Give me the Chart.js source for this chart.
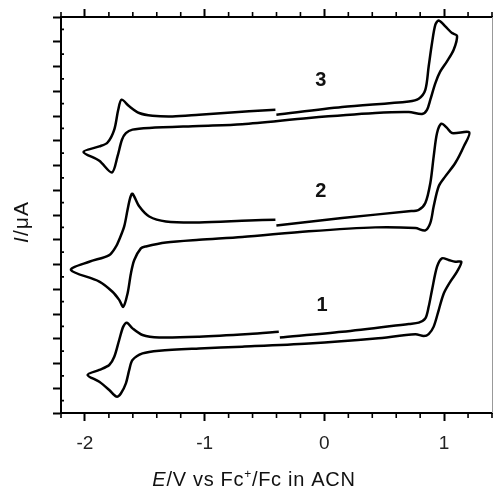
<!DOCTYPE html>
<html>
<head>
<meta charset="utf-8">
<script src="https://cdn.jsdelivr.net/npm/chart.js@4"></script>
<style>
html, body { margin: 0; padding: 0; background: #fff; }
#wrap { width: 493px; height: 497px; position: relative; }
</style>
</head>
<body>
<div id="wrap"><canvas id="cv"></canvas></div>
<script>
// potentials (V vs Fc+/Fc) and currents (arb. offset units), in scan order
const cv1E = [-0.372, 0.148, 0.705, 0.788, 0.843, 0.871, 0.899, 0.941, 0.982, 1.038, 1.093, 1.144,
    1.108, 1.052, 0.997, 0.955, 0.913, 0.871, 0.830, 0.760, 0.426, -0.130, -0.687, -1.046, -1.380,
    -1.519, -1.603, -1.630, -1.658, -1.700, -1.736, -1.797, -1.880, -1.978, -1.880, -1.797, -1.755,
    -1.714, -1.680, -1.649, -1.603, -1.519, -1.380, -1.046, -0.629, -0.381];
const cv1I = [3.05, 3.28, 3.60, 3.65, 3.82, 4.29, 4.97, 5.91, 6.25, 6.18, 6.11, 6.11,
    5.71, 5.31, 4.83, 4.16, 3.49, 3.19, 3.11, 3.18, 3.01, 2.81, 2.68, 2.61, 2.52,
    2.41, 2.14, 1.74, 1.20, 0.79, 0.66, 0.93, 1.26, 1.54, 1.74, 1.94, 2.27,
    2.95, 3.49, 3.65, 3.42, 3.15, 3.05, 3.08, 3.19, 3.28];

const cv2E = [-0.401, 0.148, 0.705, 0.788, 0.843, 0.885, 0.913, 0.941, 0.977, 1.024, 1.066, 1.210,
    1.164, 1.093, 1.010, 0.955, 0.913, 0.885, 0.843, 0.760, 0.426, -0.130, -0.687, -1.046, -1.324,
    -1.491, -1.533, -1.588, -1.616, -1.644, -1.680, -1.714, -1.770, -1.880, -2.117, -1.964, -1.797,
    -1.741, -1.714, -1.672, -1.644, -1.622, -1.603, -1.547, -1.463, -1.324, -1.046, -0.629, -0.409];
const cv2I = [7.58, 7.88, 8.15, 8.21, 8.48, 9.29, 10.37, 11.31, 11.69, 11.52, 11.31, 11.34,
    10.77, 10.10, 9.56, 9.16, 8.35, 7.68, 7.38, 7.47, 7.50, 7.34, 7.11, 7.00, 6.89,
    6.73, 6.65, 6.18, 5.64, 4.83, 4.29, 4.57, 4.90, 5.31, 5.78, 6.11, 6.38,
    6.72, 7.00, 7.54, 8.21, 8.69, 8.86, 8.35, 7.94, 7.74, 7.70, 7.78, 7.81];

const cv3E = [-0.401, 0.148, 0.705, 0.788, 0.843, 0.871, 0.899, 0.927, 0.955, 1.010, 1.066, 1.108,
    1.080, 1.024, 0.968, 0.927, 0.885, 0.857, 0.816, 0.705, 0.426, -0.130, -0.687, -1.046, -1.463,
    -1.603, -1.658, -1.691, -1.728, -1.775, -1.880, -2.012, -1.880, -1.811, -1.755, -1.722, -1.694,
    -1.630, -1.547, -1.436, -1.269, -1.046, -0.629, -0.409];
const cv3I = [12.05, 12.36, 12.59, 12.70, 13.06, 14.00, 14.95, 15.69, 15.86, 15.62, 15.35, 15.24,
    14.68, 14.21, 13.80, 13.33, 12.66, 12.25, 12.08, 12.16, 12.12, 11.92, 11.67, 11.60, 11.52,
    11.45, 11.31, 11.04, 10.37, 9.72, 10.19, 10.55, 10.77, 10.93, 11.45, 12.25, 12.66,
    12.39, 12.12, 12.01, 11.98, 12.05, 12.19, 12.25];

const xTickValues = [-2, -1, 0, 1];
const xTickLabels = ['-2', '-1', '0', '1'];
const curveNames = ['1', '2', '3'];

function toPoints(es, is) {
    return es.map((e, i) => ({ x: e, y: is[i] }));
}

const FONT = "'Liberation Sans', Arial, sans-serif";

function lineSet(label, es, is) {
    return {
        label: label,
        data: toPoints(es, is),
        showLine: true,
        borderColor: '#000',
        borderWidth: 2.5,
        pointRadius: 0,
        tension: 0.3,
        fill: false
    };
}

function majorTicks(scale) {
    scale.ticks = xTickValues.map(v => ({ value: v }));
}

// minor ticks, right frame, curve numbers and axis titles
const extras = {
    id: 'extras',
    afterDraw(chart) {
        const ctx = chart.ctx;
        const a = chart.chartArea;
        const xs = chart.scales.x, ys = chart.scales.y;
        ctx.save();

        ctx.strokeStyle = '#000';
        ctx.lineWidth = 1.6;
        ctx.beginPath();
        for (let k = -11; k <= 7; k++) {
            if (k % 5 === 0) continue;
            const px = xs.getPixelForValue(k * 0.2);
            ctx.moveTo(px, a.bottom); ctx.lineTo(px, a.bottom + 5);
            ctx.moveTo(px, a.top); ctx.lineTo(px, a.top - 5);
        }
        for (let k = 0; k < 16; k++) {
            const py = ys.getPixelForValue(k + 0.5);
            ctx.moveTo(a.left, py); ctx.lineTo(a.left + 3, py);
        }
        ctx.stroke();

        ctx.strokeStyle = '#999';
        ctx.lineWidth = 1;
        ctx.beginPath();
        ctx.moveTo(a.right + 0.5, a.top);
        ctx.lineTo(a.right + 0.5, a.bottom);
        ctx.stroke();

        // curve numbers
        const labE = [-0.02, -0.03, -0.03];
        const labI = [4.36, 8.95, 13.44];
        ctx.fillStyle = '#111';
        ctx.font = 'bold 20px ' + FONT;
        ctx.textAlign = 'center';
        ctx.textBaseline = 'middle';
        curveNames.forEach((n, i) => {
            ctx.fillText(n, xs.getPixelForValue(labE[i]), ys.getPixelForValue(labI[i]));
        });

        // x title: E/V vs Fc+/Fc in ACN
        ctx.textAlign = 'left';
        ctx.textBaseline = 'alphabetic';
        ctx.letterSpacing = '0.7px';
        const fi = 'italic 20px ' + FONT, fn = '20px ' + FONT, fs = '12px ' + FONT;
        const parts = [[fi, 'E', 0], [fn, '/V vs Fc', 0], [fs, '+', -8], [fn, '/Fc in ACN', 0]];
        let w = 0;
        parts.forEach(p => { ctx.font = p[0]; w += ctx.measureText(p[1]).width; });
        let x = 254 - w / 2;
        parts.forEach(p => {
            ctx.font = p[0];
            ctx.fillText(p[1], x, 486 + p[2]);
            x += ctx.measureText(p[1]).width;
        });

        // y title: I/μA
        ctx.letterSpacing = '1px';
        ctx.translate(28, 222);
        ctx.rotate(-Math.PI / 2);
        const yparts = [['italic 21px ' + FONT, 'I'], ['21px ' + FONT, '/\u03bcA']];
        w = 0;
        yparts.forEach(p => { ctx.font = p[0]; w += ctx.measureText(p[1]).width; });
        x = -w / 2;
        yparts.forEach(p => {
            ctx.font = p[0];
            ctx.fillText(p[1], x, 0);
            x += ctx.measureText(p[1]).width;
        });
        ctx.restore();
    }
};

new Chart(document.getElementById('cv'), {
    type: 'scatter',
    data: {
        datasets: [
            lineSet(curveNames[0], cv1E, cv1I),
            lineSet(curveNames[1], cv2E, cv2I),
            lineSet(curveNames[2], cv3E, cv3I)
        ]
    },
    options: {
        responsive: true,
        maintainAspectRatio: false,
        animation: false,
        layout: { padding: { left: 0, right: 1, top: 0, bottom: 0 } },
        plugins: { legend: { display: false }, tooltip: { enabled: false } },
        scales: {
            x: {
                type: 'linear',
                position: 'bottom',
                min: -2.2,
                max: 1.4,
                afterBuildTicks: majorTicks,
                afterFit: s => { s.height = 84; },
                ticks: {
                    color: '#222',
                    padding: 11,
                    font: { family: FONT, size: 19 },
                    callback: v => xTickLabels[xTickValues.indexOf(v)]
                },
                grid: { drawOnChartArea: false, tickLength: 8, tickWidth: 2, tickColor: '#000' },
                border: { color: '#000', width: 2 }
            },
            x2: {
                type: 'linear',
                position: 'top',
                min: -2.2,
                max: 1.4,
                afterBuildTicks: majorTicks,
                afterFit: s => { s.height = 17; },
                ticks: { display: false },
                grid: { drawOnChartArea: false, tickLength: 8, tickWidth: 2, tickColor: '#000' },
                border: { color: '#000', width: 2 }
            },
            y: {
                type: 'linear',
                position: 'left',
                min: 0,
                max: 16,
                afterFit: s => { s.width = 61; },
                ticks: { stepSize: 1, callback: () => '' },
                grid: { drawOnChartArea: false, tickLength: 8, tickWidth: 2, tickColor: '#000' },
                border: { color: '#000', width: 2 }
            }
        }
    },
    plugins: [extras]
});
</script>
</body>
</html>
